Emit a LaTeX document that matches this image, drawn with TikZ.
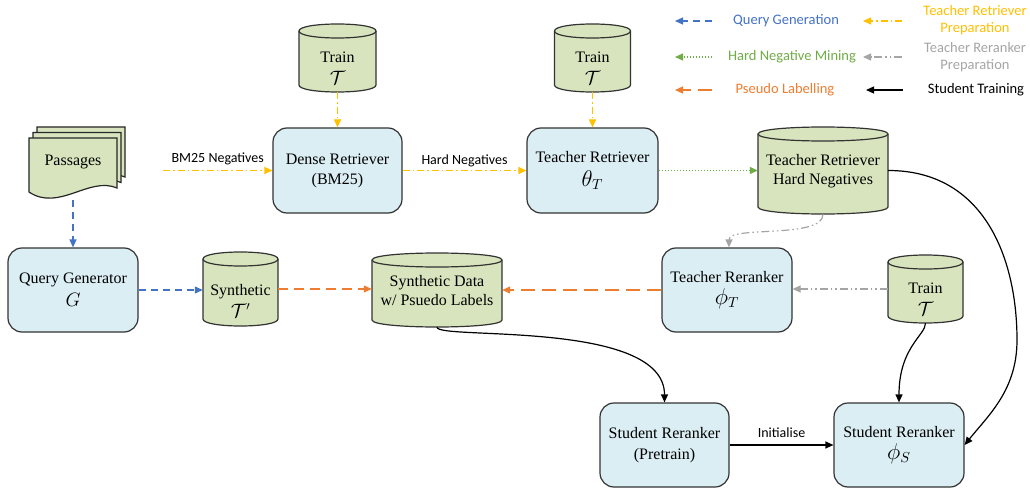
\documentclass[tikz,border=0pt]{standalone}
\usepackage{fontspec}
\usepackage{graphicx}
\setmainfont{Liberation Serif}
\newfontfamily\legfont{Carlito}
\usetikzlibrary{arrows.meta,calc}

\definecolor{boxblue}{HTML}{DBEEF4}
\definecolor{cylgreen}{HTML}{D7E4BD}
\definecolor{qblue}{HTML}{4472C4}
\definecolor{tyellow}{HTML}{FFC000}
\definecolor{hgreen}{HTML}{70AD47}
\definecolor{rgray}{HTML}{A5A5A5}
\definecolor{porange}{HTML}{ED7D31}

% name, cx, cy, w, h, text yshift, text
\newcommand{\dbcyl}[7]{%
  \pgfmathsetmacro\cylXL{#2-#4/2}%
  \pgfmathsetmacro\cylXR{#2+#4/2}%
  \pgfmathsetmacro\cylYT{#3-#5/2+7}%
  \pgfmathsetmacro\cylYB{#3+#5/2-7}%
  \pgfmathsetmacro\cylYTC{#3-#5/2-2.333}%
  \pgfmathsetmacro\cylYTD{#3-#5/2+16.333}%
  \pgfmathsetmacro\cylYBC{#3+#5/2+2.333}%
  \path[cylfill] (\cylXL,\cylYT) -- (\cylXL,\cylYB)
     .. controls (\cylXL,\cylYBC) and (\cylXR,\cylYBC) .. (\cylXR,\cylYB)
     -- (\cylXR,\cylYT)
     .. controls (\cylXR,\cylYTC) and (\cylXL,\cylYTC) .. (\cylXL,\cylYT) -- cycle;
  \draw[cylline] (\cylXL,\cylYT) .. controls (\cylXL,\cylYTD) and (\cylXR,\cylYTD) .. (\cylXR,\cylYT);
  \node[cylnode, minimum width=#4, minimum height=#5,
        label={[cyltext, yshift=#6]center:{#7}}] (#1) at (#2,#3) {};
}

% x0, y0 : one page of the document stack
\newcommand{\docpage}[2]{%
  \filldraw[docstyle] (#1,#2) -- ++(88,0) -- ++(0,50)
     .. controls +(-28,-12) and +(30,20) .. ++(-88,4) -- cycle;
}

\newcommand{\lgmath}[1]{\scalebox{1.32}{$#1$}}
\newcommand{\mdmath}[1]{\scalebox{1.12}{$#1$}}

\tikzset{
  box/.style={draw=black!80, fill=boxblue, rounded corners=14pt, line width=1.2pt,
              minimum width=130, minimum height=84, align=center,
              font=\fontsize{16}{19}\selectfont, inner sep=0pt},
  cylnode/.style={inner sep=0pt},
  cyltext/.style={align=center, font=\fontsize{16}{19}\selectfont, inner sep=0pt},
  cylfill/.style={fill=cylgreen, draw=black!80, line width=1.2pt},
  cylline/.style={draw=black!80, line width=1.2pt},
  docstyle/.style={fill=cylgreen, draw=black!85, line width=1.2pt},
  link/.style={line width=1.2pt, -{Triangle[length=8pt,width=7pt]}},
  qgen/.style={link, qblue, dash pattern=on 7pt off 5pt},
  tprep/.style={link, tyellow, dash pattern=on 7pt off 3pt on 1.5pt off 3pt},
  hneg/.style={link, hgreen, dash pattern=on 1.5pt off 1.5pt},
  rprep/.style={link, rgray, dash pattern=on 8pt off 3pt on 1.5pt off 3pt on 1.5pt off 3pt},
  plab/.style={link, porange, dash pattern=on 14pt off 7pt},
  strain/.style={link, black},
  legtext/.style={font=\legfont\fontsize{14.5}{17}\selectfont, align=center, inner sep=0pt},
  edgelab/.style={font=\legfont\fontsize{14}{17}\selectfont, inner sep=0pt, text=black},
}

\begin{document}
\begin{tikzpicture}[x=1pt,y=-1pt]
\useasboundingbox (0,0) rectangle (1030,489);
\fill[white] (0,0) rectangle (1030,489);

% ---------- Passages (document stack)
\docpage{37}{127}
\docpage{33}{132.5}
\docpage{29}{138}
\node[cylnode, minimum width=88, minimum height=62,
      label={[cyltext, yshift=7]center:Passages}] (passages) at (73,169) {};

% ---------- boxes
\node[box, minimum width=129, minimum height=85] (dense) at (337.5,170.5)
  {Dense Retriever\\[1pt](BM25)};
\node[box, minimum width=131, minimum height=85] (tr) at (592.5,170.5)
  {Teacher Retriever\\[5pt]\lgmath{\theta_T}};
\node[box] (qg) at (73,290)
  {Query Generator\\[4pt]\mdmath{G}};
\node[box] (trr) at (727,290)
  {Teacher Reranker\\[3pt]\lgmath{\phi_T}};
\node[box, minimum width=129] (sp) at (664.5,445)
  {Student Reranker\\[2pt](Pretrain)};
\node[box] (ss) at (899,445)
  {Student Reranker\\[3pt]\lgmath{\phi_S}};

% ---------- cylinders
\dbcyl{train1}{337.5}{58}{77}{68}{-10}{Train\\[3pt]\mdmath{\mathcal{T}}}
\dbcyl{train2}{592.5}{58}{76}{68}{-10}{Train\\[3pt]\mdmath{\mathcal{T}}}
\dbcyl{trhn}{823}{170.5}{130}{87}{-1}{Teacher Retriever\\Hard Negatives}
\dbcyl{syn}{240.5}{289}{75}{74}{-12}{Synthetic\\[3pt]\mdmath{\mathcal{T}'}}
\dbcyl{sd}{437}{290}{130}{74}{-1}{Synthetic Data\\w/ Psuedo Labels}
\dbcyl{train3}{925.5}{289}{75}{68}{-10}{Train\\[3pt]\mdmath{\mathcal{T}}}

% ---------- connectors
\coordinate (bmstart) at (163,170.5);
\draw[tprep] (bmstart) -- (dense.west)
  node[edgelab, midway, yshift=12pt] {BM25 Negatives};
\draw[tprep] (train1.south) -- (dense.north);
\draw[tprep] (train2.south) -- (tr.north);
\draw[tprep] (dense.east) -- (tr.west)
  node[edgelab, midway, yshift=10pt] {Hard Negatives};
\draw[hneg] (tr.east) -- (trhn.west);

\draw[qgen] (passages.south) -- (qg.north);
\draw[qgen] (qg.east) -- (qg.east -| syn.west);
\draw[plab, dash pattern=on 10pt off 6pt] (syn.east) -- (syn.east -| sd.west);
\draw[plab] (trr.west) -- (trr.west -| sd.east);

\draw[rprep] (trhn.south) .. controls +(0,25) and +(0,-22) .. ($(trr.north)+(2,0)$);
\draw[rprep] (train3.west) -- (train3.west -| trr.east);

\draw[strain] (sd.south) .. controls +(0,13) and +(0,-83) .. (sp.north);
\draw[strain] (train3.south) .. controls +(0,12) and +(0,-55) .. (ss.north);
\coordinate (bend) at (1017,340);
\draw[strain] (trhn.east) .. controls +(97,0) and +(0,-80) .. (bend)
  .. controls +(0,50) and +(24,-30) .. (ss.east);
\draw[strain] (sp.east) -- (ss.west)
  node[edgelab, midway, yshift=12pt] {Initialise};

% ---------- legend
\coordinate (lqa) at (712,21);  \coordinate (lqb) at (675,21);
\coordinate (lta) at (902,21);  \coordinate (ltb) at (863,21);
\coordinate (lha) at (712,57);  \coordinate (lhb) at (675,57);
\coordinate (lra) at (902,57);  \coordinate (lrb) at (863,57);
\coordinate (lpa) at (712,90);  \coordinate (lpb) at (675,90);
\coordinate (lsa) at (903,90);  \coordinate (lsb) at (866,90);
\draw[qgen] (lqa) -- (lqb);
\draw[tprep] (lta) -- (ltb);
\draw[hneg] (lha) -- (lhb);
\draw[rprep] (lra) -- (lrb);
\draw[plab] (lpa) -- (lpb);
\draw[strain] (lsa) -- (lsb);
\node[legtext, text=qblue] (lqt) at (786,21) {Query Generation};
\node[legtext, text=tyellow] (ltt) at (975,20.5) {Teacher Retriever\\Preparation};
\node[legtext, text=hgreen] (lht) at (792,57) {Hard Negative Mining};
\node[legtext, text=rgray] (lrt) at (975,57.5) {Teacher Reranker\\Preparation};
\node[legtext, text=porange] (lpt) at (785,90) {Pseudo Labelling};
\node[legtext, text=black] (lst) at (976,90) {Student Training};
\end{tikzpicture}
\end{document}
